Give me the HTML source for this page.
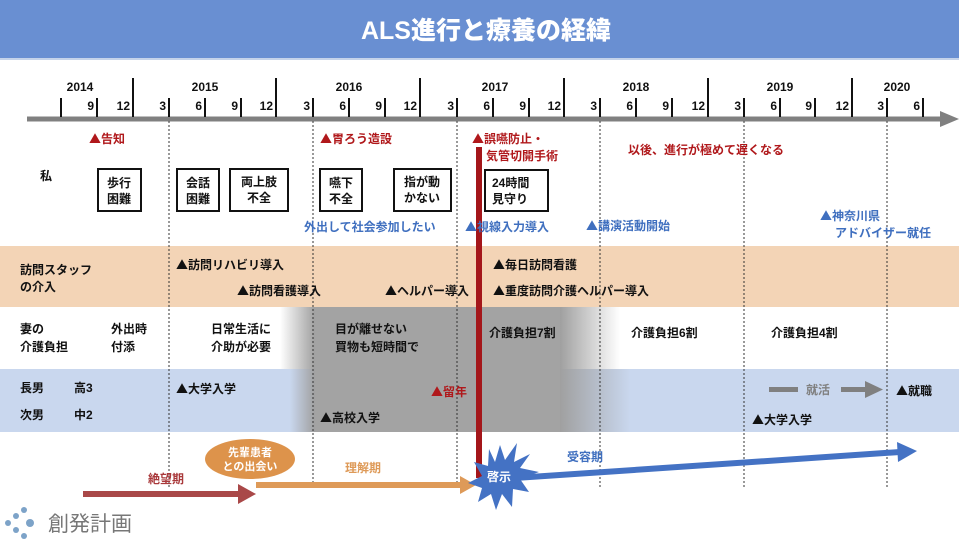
<!DOCTYPE html>
<html><head><meta charset="utf-8"><style>
body{margin:0;background:#fff}
svg{display:block}
text{font-family:"Liberation Sans","Noto Sans CJK JP",sans-serif;font-weight:bold;font-size:12px;fill:#111}
.t{font-family:"Noto Sans CJK JP",sans-serif}
.r{fill:#b0181b}.b{fill:#3f6fbf}
.m{font-size:11px}
</style></head><body>
<svg width="959" height="540" viewBox="0 0 959 540" xmlns="http://www.w3.org/2000/svg">
<defs>
<linearGradient id="g1" x1="0" x2="1"><stop offset="0" stop-color="#a0a0a0" stop-opacity="0"/><stop offset="1" stop-color="#a0a0a0"/></linearGradient>
<linearGradient id="g2" x1="0" x2="1"><stop offset="0" stop-color="#a0a0a0"/><stop offset="1" stop-color="#a0a0a0" stop-opacity="0"/></linearGradient>
</defs>
<rect x="0" y="0" width="959" height="58" fill="#698fd2"/>
<rect x="0" y="58" width="959" height="2" fill="#c5d3ea"/>
<text x="486" y="39" text-anchor="middle" style="font-size:25px;fill:#fff;font-weight:900">ALS進行と療養の経緯</text>

<rect x="0" y="246" width="959" height="61" fill="#f3d4b6"/>
<rect x="0" y="369" width="959" height="63" fill="#c9d7ee"/>
<rect x="280" y="307" width="35" height="62" fill="url(#g1)"/>
<rect x="290" y="369" width="25" height="63" fill="url(#g1)"/>
<rect x="315" y="307" width="245" height="125" fill="#a3a3a3"/>
<rect x="560" y="307" width="60" height="62" fill="url(#g2)"/>
<rect x="560" y="369" width="70" height="63" fill="url(#g2)"/>

<line x1="27" y1="119" x2="945" y2="119" stroke="#808080" stroke-width="5"/>
<polygon points="940,111 959,119 940,127" fill="#808080"/>
<g stroke="#111" stroke-width="2">
<line x1="61" y1="98" x2="61" y2="117"/><line x1="97" y1="98" x2="97" y2="117"/><line x1="133" y1="78" x2="133" y2="117"/>
<line x1="169" y1="98" x2="169" y2="117"/><line x1="205" y1="98" x2="205" y2="117"/><line x1="241" y1="98" x2="241" y2="117"/><line x1="276" y1="78" x2="276" y2="117"/>
<line x1="313" y1="98" x2="313" y2="117"/><line x1="349" y1="98" x2="349" y2="117"/><line x1="385" y1="98" x2="385" y2="117"/><line x1="420" y1="78" x2="420" y2="117"/>
<line x1="457" y1="98" x2="457" y2="117"/><line x1="493" y1="98" x2="493" y2="117"/><line x1="529" y1="98" x2="529" y2="117"/><line x1="564" y1="78" x2="564" y2="117"/>
<line x1="600" y1="98" x2="600" y2="117"/><line x1="636" y1="98" x2="636" y2="117"/><line x1="672" y1="98" x2="672" y2="117"/><line x1="708" y1="78" x2="708" y2="117"/>
<line x1="744" y1="98" x2="744" y2="117"/><line x1="780" y1="98" x2="780" y2="117"/><line x1="815" y1="98" x2="815" y2="117"/><line x1="852" y1="78" x2="852" y2="117"/>
<line x1="887" y1="98" x2="887" y2="117"/><line x1="923" y1="98" x2="923" y2="117"/>
</g>
<g class="m" text-anchor="end">
<text x="94" y="110">9</text><text x="130" y="110">12</text><text x="166" y="110">3</text><text x="202" y="110">6</text><text x="238" y="110">9</text><text x="273" y="110">12</text>
<text x="310" y="110">3</text><text x="346" y="110">6</text><text x="382" y="110">9</text><text x="417" y="110">12</text><text x="454" y="110">3</text><text x="490" y="110">6</text>
<text x="526" y="110">9</text><text x="561" y="110">12</text><text x="597" y="110">3</text><text x="633" y="110">6</text><text x="669" y="110">9</text><text x="705" y="110">12</text>
<text x="741" y="110">3</text><text x="777" y="110">6</text><text x="812" y="110">9</text><text x="849" y="110">12</text><text x="884" y="110">3</text><text x="920" y="110">6</text>
</g>
<g class="m" text-anchor="middle">
<text x="80" y="91">2014</text><text x="205" y="91">2015</text><text x="349" y="91">2016</text><text x="495" y="91">2017</text><text x="636" y="91">2018</text><text x="780" y="91">2019</text><text x="897" y="91">2020</text>
</g>

<g stroke="#333" stroke-width="1" stroke-dasharray="2,2">
<line x1="169" y1="121" x2="169" y2="487"/><line x1="313" y1="121" x2="313" y2="487"/><line x1="457" y1="121" x2="457" y2="487"/>
<line x1="600" y1="121" x2="600" y2="487"/><line x1="744" y1="121" x2="744" y2="487"/><line x1="887" y1="121" x2="887" y2="487"/>
</g>

<rect x="476" y="147" width="6" height="331" fill="#a4161a"/>

<text class="r" x="89" y="143"><tspan class="t">▲</tspan>告知</text>
<text class="r" x="320" y="143"><tspan class="t">▲</tspan>胃ろう造設</text>
<text class="r" x="472" y="143"><tspan class="t">▲</tspan>誤嚥防止・</text>
<text class="r" x="486" y="160">気管切開手術</text>
<text class="r" x="628" y="154">以後、進行が極めて遅くなる</text>
<text x="40" y="180">私</text>
<g fill="#fff" stroke="#111" stroke-width="2">
<rect x="98" y="169" width="43" height="42"/><rect x="177" y="169" width="42" height="42"/><rect x="230" y="169" width="58" height="42"/>
<rect x="320" y="169" width="42" height="42"/><rect x="394" y="169" width="57" height="42"/><rect x="485" y="170" width="63" height="41"/>
</g>
<g text-anchor="middle">
<text x="119" y="187">歩行</text><text x="119" y="203">困難</text>
<text x="198" y="187">会話</text><text x="198" y="203">困難</text>
<text x="259" y="186">両上肢</text><text x="259" y="202">不全</text>
<text x="341" y="187">嚥下</text><text x="341" y="203">不全</text>
<text x="422" y="186">指が動</text><text x="422" y="202">かない</text>
</g>
<text x="492" y="187">24時間</text><text x="492" y="203">見守り</text>
<text class="b" x="304" y="231">外出して社会参加したい</text>
<text class="b" x="465" y="231"><tspan class="t">▲</tspan>視線入力導入</text>
<text class="b" x="586" y="230"><tspan class="t">▲</tspan>講演活動開始</text>
<text class="b" x="820" y="220"><tspan class="t">▲</tspan>神奈川県</text>
<text class="b" x="835" y="237">アドバイザー就任</text>

<text x="20" y="274">訪問スタッフ</text><text x="20" y="291">の介入</text>
<text x="176" y="269"><tspan class="t">▲</tspan>訪問リハビリ導入</text>
<text x="237" y="295"><tspan class="t">▲</tspan>訪問看護導入</text>
<text x="385" y="295"><tspan class="t">▲</tspan>ヘルパー導入</text>
<text x="493" y="269"><tspan class="t">▲</tspan>毎日訪問看護</text>
<text x="493" y="295"><tspan class="t">▲</tspan>重度訪問介護ヘルパー導入</text>

<text x="20" y="333">妻の</text><text x="20" y="351">介護負担</text>
<text x="111" y="333">外出時</text><text x="111" y="351">付添</text>
<text x="211" y="333">日常生活に</text><text x="211" y="351">介助が必要</text>
<text x="335" y="333">目が離せない</text><text x="335" y="351">買物も短時間で</text>
<text x="489" y="337">介護負担7割</text>
<text x="631" y="337">介護負担6割</text>
<text x="771" y="337">介護負担4割</text>

<text x="20" y="392">長男</text><text x="74" y="392">高3</text>
<text x="20" y="419">次男</text><text x="74" y="419">中2</text>
<text x="176" y="393"><tspan class="t">▲</tspan>大学入学</text>
<text x="320" y="422"><tspan class="t">▲</tspan>高校入学</text>
<text class="r" x="431" y="396"><tspan class="t">▲</tspan>留年</text>
<rect x="769" y="387" width="29" height="5" fill="#808080"/>
<text x="806" y="394" style="fill:#808080">就活</text>
<rect x="841" y="387" width="30" height="5" fill="#808080"/>
<polygon points="865,381 883,389.5 865,398" fill="#808080"/>
<text x="896" y="395"><tspan class="t">▲</tspan>就職</text>
<text x="752" y="424"><tspan class="t">▲</tspan>大学入学</text>

<ellipse cx="250" cy="459" rx="45" ry="20" fill="#dd934b"/>
<text x="250" y="456" text-anchor="middle" style="fill:#fff;font-size:11px">先輩患者</text>
<text x="250" y="470" text-anchor="middle" style="fill:#fff;font-size:11px">との出会い</text>
<text x="148" y="483" style="fill:#a9393b">絶望期</text>
<rect x="83" y="491" width="157" height="6" fill="#a94848"/>
<polygon points="238,484 256,494 238,504" fill="#a94848"/>
<text x="345" y="472" style="fill:#de9a58">理解期</text>
<rect x="256" y="482" width="206" height="6" fill="#de9a58"/>
<polygon points="460,476 476,485 460,494" fill="#de9a58"/>
<text x="567" y="461" class="b">受容期</text>
<line x1="515" y1="478" x2="900" y2="452" stroke="#4472c4" stroke-width="6"/>
<polygon points="897,442 917,451 898,462" fill="#4472c4"/>
<polygon fill="#4472c4" points="500,445 505,460 517,443 514,462 530,454 520,468 539,472 520,479 529,492 513,489 512,507 502,494 496,510 491,494 478,502 482,488 468,483 482,476 474,462 488,466 489,449 495,462" />
<text x="499" y="481" text-anchor="middle" style="fill:#fff">啓示</text>

<g fill="#7da3c8">
<circle cx="8" cy="523" r="3"/><circle cx="16" cy="516" r="3"/><circle cx="16" cy="530" r="3"/>
<circle cx="24" cy="510" r="3"/><circle cx="24" cy="536" r="3"/><circle cx="30" cy="523" r="4"/>
</g>
<text x="48" y="531" style="font-size:21px;font-weight:normal;fill:#777">創発計画</text>
</svg>
</body></html>
